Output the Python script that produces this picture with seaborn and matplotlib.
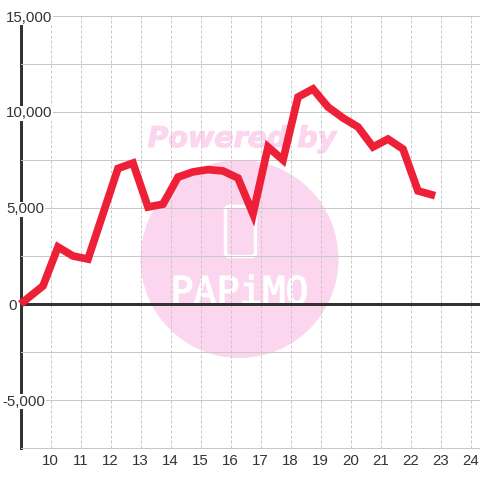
import matplotlib
matplotlib.use("Agg")
import matplotlib.pyplot as plt
import matplotlib.patheffects as pe
import seaborn as sns
import pandas as pd
from matplotlib.patches import Circle, FancyBboxPatch
from matplotlib.transforms import IdentityTransform, ScaledTranslation

hours = [9, 9.75, 10.25, 10.75, 11.25, 11.75, 12.25, 12.75, 13.25, 13.75, 14.25, 14.75,
         15.25, 15.75, 16.25, 16.75, 17.25, 17.75, 18.25, 18.75, 19.25, 19.75, 20.25,
         20.75, 21.25, 21.75, 22.25, 22.82]
values = [0, 940, 2970, 2500, 2340, 4700, 7060, 7340, 5050, 5200, 6610, 6880,
          7000, 6930, 6560, 4690, 8180, 7500, 10780, 11200, 10260, 9690, 9220,
          8180, 8590, 8070, 5890, 5640]
x_ticks = list(range(10, 25))
y_major = [-5000, 0, 5000, 10000, 15000]
y_labels = ["-5,000", "0", "5,000", "10,000", "15,000"]
y_label_left = [2, 8, 6, 6, 6]
y_minor = [-7500, -2500, 2500, 7500, 12500]

BG = "#fefffe"
INK = "#333333"
GRID = "#c8c8c8"
RED = "#ee2038"
PINK = "#fcd6ee"
PX = 0.72

sns.set_theme(style="white")
plt.rcParams["font.family"] = ["Liberation Sans", "DejaVu Sans"]

fig = plt.figure(figsize=(4.8, 4.8), dpi=100, facecolor=BG)
ax = fig.add_axes([20.5 / 480, 32 / 480, 459.5 / 480, 432 / 480])
ax.set_facecolor("none")
df = pd.DataFrame({"hour": hours, "value": values})

# watermark, drawn in pixel space behind everything
idt = IdentityTransform()
ax.add_patch(Circle((239.5, 221), 99, transform=idt, facecolor=PINK, edgecolor="none", zorder=0))
ax.add_patch(FancyBboxPatch((225.5, 223.5), 30, 50, boxstyle="round,pad=0,rounding_size=4",
                            transform=idt, facecolor="none", edgecolor="white",
                            linewidth=3.5 * PX, zorder=0.5))
ax.text(242, 333, "Powered by", transform=idt, ha="center", va="baseline", color=PINK,
        fontsize=20.5, family="DejaVu Sans", weight="bold", style="oblique", zorder=0.5,
        path_effects=[pe.withStroke(linewidth=0.8, foreground=PINK)])
ax.text(239.5, 176, "PAPiMO", transform=idt, ha="center", va="baseline", color="white",
        fontsize=27.5, family="DejaVu Sans Mono", zorder=0.5,
        path_effects=[pe.withStroke(linewidth=1.0, foreground="white")])

sns.lineplot(data=df, x="hour", y="value", ax=ax, color=RED, linewidth=7.7 * PX, zorder=5,
             errorbar=None, solid_capstyle="butt", solid_joinstyle="miter", clip_on=False)
ax.axhline(0, color=INK, linewidth=3 * PX, zorder=4)

ax.set_xlim(9, 9 + 459.5 / 30)
ax.set_ylim(-7500, 15000)
ax.set_xlabel("")
ax.set_ylabel("")
ax.set_axisbelow(False)

for name, spine in ax.spines.items():
    spine.set_visible(name == "left")
ax.spines["left"].set_color(INK)
ax.spines["left"].set_linewidth(3 * PX)
ax.spines["left"].set_zorder(2)

ax.set_xticks(x_ticks)
ax.set_yticks(y_major, y_labels)
ax.set_yticks(y_minor, minor=True)
ax.tick_params(axis="x", length=0, pad=4.6, labelsize=10.8, labelcolor=INK)
ax.tick_params(axis="y", which="both", length=0, pad=0, labelsize=10.8, labelcolor=INK)
ax.grid(True, axis="x", color=GRID, linewidth=PX, linestyle=(0, (3, 2)))
ax.grid(True, axis="y", which="both", color=GRID, linewidth=PX, linestyle="-")

for tick in ax.yaxis.get_major_ticks() + ax.yaxis.get_minor_ticks():
    tick.gridline.set_clip_on(False)

for label, left in zip(ax.get_yticklabels(), y_label_left):
    label.set_ha("left")
    label.set_transform(label.get_transform()
                        + ScaledTranslation((left - 20.5) / 100, 0, fig.dpi_scale_trans))
    label.set_bbox(dict(facecolor=BG, edgecolor="none", boxstyle="square,pad=0.05"))

fig.savefig("out.png", dpi=100, facecolor=BG)
